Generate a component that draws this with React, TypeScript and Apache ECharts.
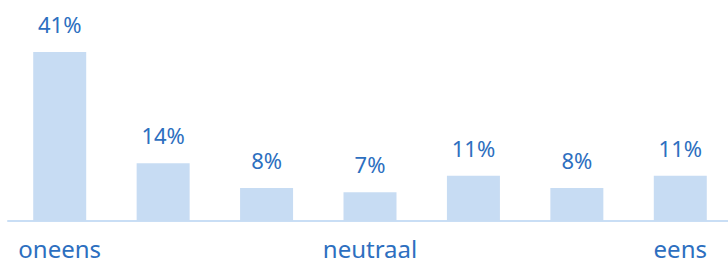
import React, { useEffect, useRef } from "react";
import * as echarts from "echarts";

const categories = ["oneens", "2", "3", "neutraal", "5", "6", "eens"];
const shownLabels = ["oneens", "", "", "neutraal", "", "", "eens"];
const values = [41, 14, 8, 7, 11, 8, 11];

export default function App() {
  const ref = useRef<HTMLDivElement>(null);
  useEffect(() => {
    if (!ref.current) return;
    const chart = echarts.init(ref.current, null, { renderer: "svg" });
    chart.setOption({
      animation: false,
      grid: { left: 8, right: 0, top: 52, bottom: 39, containLabel: false, outerBoundsMode: "none" },
      xAxis: {
        type: "category",
        data: categories,
        axisLine: { lineStyle: { color: "#c9def5", width: 2 } },
        axisTick: { show: false },
        axisLabel: {
          interval: 0,
          margin: 15,
          color: "#2d6fc0",
          fontFamily: "Noto Sans",
          fontSize: 24,
          formatter: (_v: string, i: number) => shownLabels[i],
        },
      },
      yAxis: {
        type: "value",
        min: 0,
        max: 41,
        show: false,
        splitLine: { show: false },
      },
      series: [
        {
          type: "bar",
          data: values,
          barWidth: 53,
          itemStyle: { color: "#c7dcf3" },
          label: {
            show: true,
            position: "top",
            distance: 17,
            color: "#2d6fc0",
            fontFamily: "Noto Sans",
            fontSize: 22,
            formatter: (p: any) => p.value + "%",
          },
        },
      ],
    });
    return () => chart.dispose();
  }, []);
  return (
    <div style={{ width: 728, height: 260, position: "absolute", left: 0, top: 0, overflow: "hidden" }}>
      <div ref={ref} style={{ width: 732, height: 260 }} />
    </div>
  );
}
